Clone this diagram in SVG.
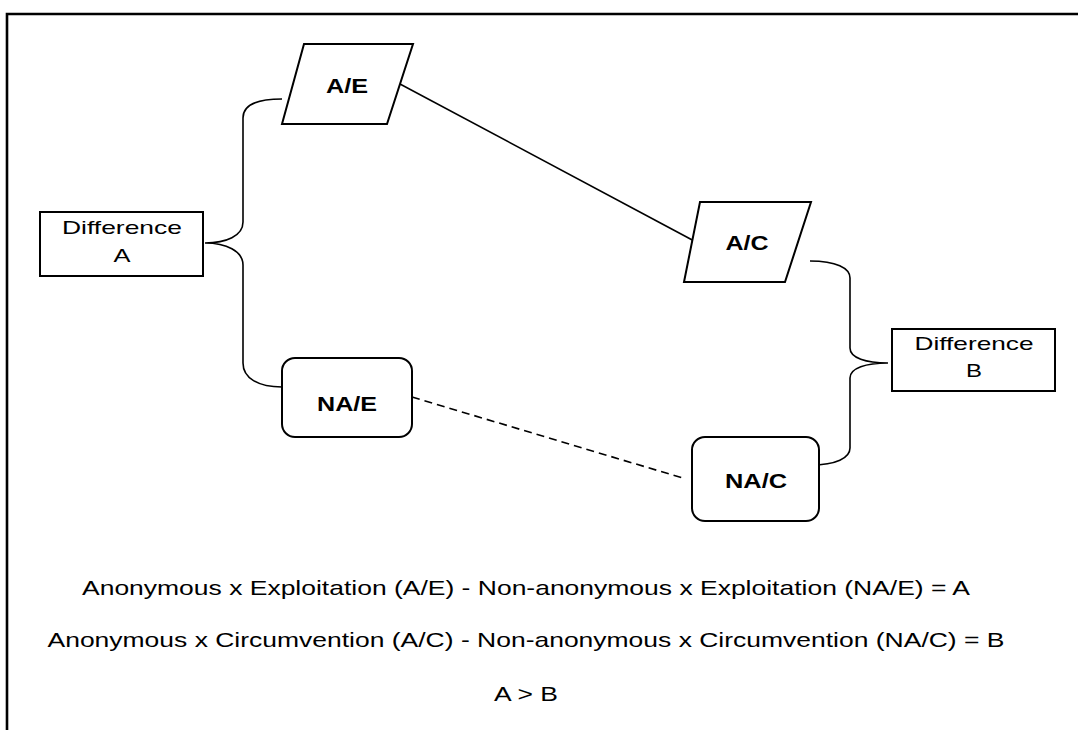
<svg xmlns="http://www.w3.org/2000/svg" width="1078" height="730" viewBox="0 0 1078 730">
<style>
.shape{fill:#fff;stroke:#000;stroke-width:2}
.conn{fill:none;stroke:#000;stroke-width:1.6}
.dash{stroke-dasharray:8 5}
.lbl{font-family:"Liberation Sans",Arial,sans-serif;font-size:20px;font-weight:bold;text-anchor:middle;fill:#000}
.reg{font-family:"Liberation Sans",Arial,sans-serif;font-size:19px;text-anchor:middle;fill:#000}
.eq{font-family:"Liberation Sans",Arial,sans-serif;font-size:21px;text-anchor:middle;fill:#000}
</style>
<rect x="0" y="0" width="1078" height="730" fill="#fff"/>
<path d="M7,730 L7,14 L1078,14" fill="none" stroke="#000" stroke-width="2.6"/>
<g id="connectors">
<path class="conn" d="M400,84 L696,242"/>
<path class="conn dash" d="M412,397 L686,479"/>
<path class="conn" d="M282,99 C256,99 243,106 243,118 L243,222 C243,236 226,243 205,243 C226,243 243,251 243,265 L243,363 C243,378 258,387 282,387"/>
<path class="conn" d="M810,261 C836,261 850,268 850,278 L850,348 C850,358 866,363 888,363 C866,363 850,368 850,378 L850,448 C850,458 836,465 811,465"/>
</g>
<g id="diffA">
<rect class="shape" x="40" y="212" width="163" height="64"/>
<text class="reg" x="122" y="234" textLength="120" lengthAdjust="spacingAndGlyphs">Difference</text>
<text class="reg" x="122" y="262" textLength="17" lengthAdjust="spacingAndGlyphs">A</text>
</g>
<g id="AE">
<polygon class="shape" points="304,44 413,44 387,124 282,124"/>
<text class="lbl" x="347" y="93" textLength="42" lengthAdjust="spacingAndGlyphs">A/E</text>
</g>
<g id="NAE">
<rect class="shape" x="282" y="358" width="130" height="79" rx="13"/>
<text class="lbl" x="347" y="411" textLength="60" lengthAdjust="spacingAndGlyphs">NA/E</text>
</g>
<g id="AC">
<polygon class="shape" points="700,202 811,202 785,282 684,282"/>
<text class="lbl" x="747" y="250" textLength="43" lengthAdjust="spacingAndGlyphs">A/C</text>
</g>
<g id="NAC">
<rect class="shape" x="692" y="437" width="127" height="84" rx="13"/>
<text class="lbl" x="756" y="488" textLength="62" lengthAdjust="spacingAndGlyphs">NA/C</text>
</g>
<g id="diffB">
<rect class="shape" x="892" y="329" width="163" height="62"/>
<text class="reg" x="974" y="350" textLength="119" lengthAdjust="spacingAndGlyphs">Difference</text>
<text class="reg" x="974" y="377" textLength="16" lengthAdjust="spacingAndGlyphs">B</text>
</g>
<g id="equations">
<text class="eq" x="526" y="595" textLength="888" lengthAdjust="spacingAndGlyphs">Anonymous x Exploitation (A/E) - Non-anonymous x Exploitation (NA/E) = A</text>
<text class="eq" x="526" y="647" textLength="957" lengthAdjust="spacingAndGlyphs">Anonymous x Circumvention (A/C) - Non-anonymous x Circumvention (NA/C) = B</text>
<text class="eq" x="526" y="701" textLength="64" lengthAdjust="spacingAndGlyphs">A &gt; B</text>
</g>
</svg>
